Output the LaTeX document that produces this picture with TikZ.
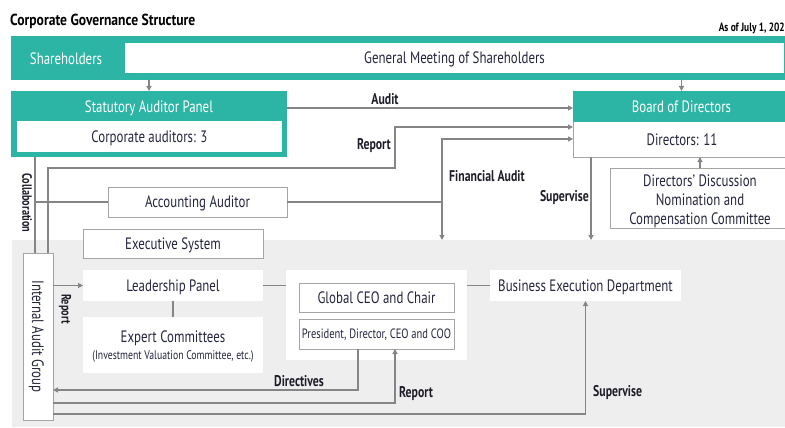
\documentclass[tikz,border=0pt]{standalone}
\usepackage{fontspec}
\setmainfont{PT Sans}[FakeStretch=0.78]
\newfontfamily\lblfont{PT Sans}[FakeStretch=0.76]
\newfontfamily\titlefont{PT Sans}[FakeStretch=0.85]
\usetikzlibrary{arrows.meta,calc}
\definecolor{tealc}{HTML}{2CB4A4}
\definecolor{bgarea}{HTML}{EEEEEE}
\definecolor{linec}{HTML}{858585}
\definecolor{bordc}{HTML}{A5A5A5}
\definecolor{txtc}{HTML}{25253F}
\definecolor{lblc}{HTML}{1E1E2A}
\begin{document}
\begin{tikzpicture}[x=1pt,y=-1pt,
  wh/.style 2 args={minimum width=#1pt,minimum height=#2pt},
  base/.style={inner sep=0pt,outer sep=0pt,text=txtc,text depth=0pt,font=\fontsize{16.5}{18.5}\selectfont},
  box/.style={base,draw=bordc,line width=0.9pt,fill=white},
  wbox/.style={base,fill=white},
  tealbox/.style={base,fill=tealc,text=white},
  lbl/.style={inner sep=0pt,text=lblc,font=\lblfont\bfseries\fontsize{15.5}{17}\selectfont},
  rlbl/.style={lbl,rotate=-90,font=\lblfont\bfseries\fontsize{13.5}{15}\selectfont},
  ln/.style={draw=linec,line width=1.1pt},
  conn/.style={ln,-{Triangle[length=5pt,width=5pt]}}
]
\useasboundingbox (0,0) rectangle (785,428);
% title
\node[anchor=west,inner sep=0pt,text=black,font=\titlefont\bfseries\fontsize{16}{18}\selectfont] (title) at (10,21) {Corporate Governance Structure};
\node[anchor=east,inner sep=0pt,text=black,font=\bfseries\fontsize{12}{14}\selectfont] (date) at (785,28) {As of July 1, 202};
% executive background area
\node[base,fill=bgarea,wh={778}{187}] (area) at (401,333.5) {};
% shareholders band
\node[tealbox,wh={779}{44}] (band) at (400.5,58) {};
\node[base,text=white] (shl) at (66,59) {Shareholders};
\node[wbox,wh={659}{30}] (gm) at (454.5,58) {General Meeting of Shareholders};
% statutory auditor panel
\node[tealbox,wh={276}{66}] (sap) at (149,124) {};
\node[base,text=white] (saptitle) at (149,107) {Statutory Auditor Panel};
\node[wbox,wh={265}{31}] (ca) at (149.5,136.5) {Corporate auditors: 3};
% board of directors
\node[box,wh={217}{66}] (board) at (681.5,124) {};
\node[tealbox,wh={217}{31}] (boardh) at (681.5,106.5) {Board of Directors};
\node[base] (dirs) at (682,140) {Directors: 11};
% directors' discussion
\node[box,wh={180}{60},align=center] (ddc) at (700,198) {\raisebox{-3pt}{\shortstack{Directors' Discussion\\[4pt]Nomination and\\[4pt]Compensation Committee}}};
% accounting auditor
\node[box,wh={179}{30}] (acc) at (197.5,202) {Accounting Auditor};
% executive system
\node[box,wh={180}{29}] (es) at (173,243.5) {Executive System};
% internal audit group
\node[box,wh={30}{167}] (iag) at (38,336.5) {};
\node[base,rotate=-90] (iagt) at (38,336.5) {Internal Audit Group};
% leadership, experts
\node[wbox,wh={180}{31}] (lp) at (173,285.5) {Leadership Panel};
\node[wbox,wh={180}{56},align=center] (ec) at (173,345) {Expert Committees\\[-2pt]{\fontsize{12.5}{14}\selectfont (Investment Valuation Committee, etc.)}};
% CEO area
\node[wbox,wh={181}{90}] (ceo) at (376.5,315) {};
\node[box,wh={155}{29}] (gceo) at (376.5,297.5) {Global CEO and Chair};
\node[box,wh={155}{30},font=\fontsize{13.5}{15}\selectfont] (pres) at (376.5,334) {President, Director, CEO and COO};
% business execution
\node[wbox,wh={191}{31}] (bed) at (585.5,285.5) {Business Execution Department};

% connectors
\draw[conn] (sap.north |- band.south) -- (sap.north);
\draw[conn] (boardh.north |- band.south) -- (boardh.north);
\draw[conn] ([yshift=16pt]sap.east) -- ([yshift=16pt]sap.east -| board.west);
\node[lbl] (laudit) at (385,99) {Audit};
\coordinate (repA) at (395,168);
\coordinate (repB) at (395,127);
\draw[conn] ([xshift=10pt]iag.north) |- (repA) -- (repB) -- (repB -| board.west);
\node[lbl,anchor=east] (lrep1) at (391,146) {Report};
\draw[ln] ([xshift=-3pt]iag.north) -- ([xshift=-3pt]iag.north |- sap.south);
\draw[ln] (acc.west) -- ([xshift=-3pt]iag.north |- acc.west);
\node[rlbl] (lcollab) at (27,203) {Collaboration};
\coordinate (fa) at (442,202);
\draw[ln] (acc.east) -- (fa);
\draw[conn] (fa) |- ([yshift=-15pt]board.west);
\draw[conn] (fa) -- (fa |- area.north);
\node[lbl,anchor=west] (lfa) at (449,176) {Financial Audit};
\draw[conn] ([xshift=18pt]board.south west) -- ([xshift=18pt]board.south west |- area.north);
\node[lbl,anchor=east] (lsup1) at (589,198) {Supervise};
\draw[conn] (ddc.north) -- (ddc.north |- board.south);
\draw[conn] (iag.east |- lp.west) -- (lp.west);
\node[rlbl] (lrep2) at (65,309) {Report};
\draw[ln] (lp.east) -- (lp.east -| ceo.west);
\draw[ln] (bed.west) -- (bed.west -| ceo.east);
\draw[ln] (lp.south) -- (ec.north);
\draw[conn] ([xshift=-18.5pt]pres.south) |- ([yshift=-53.5pt]iag.east);
\node[lbl] (ldir) at (299,381) {Directives};
\draw[conn] ([yshift=-66.5pt]iag.east) -| ([xshift=18.5pt]pres.south);
\node[lbl,anchor=west] (lrep3) at (399,394) {Report};
\draw[conn] ([yshift=-77.5pt]iag.east) -| (bed.south);
\node[lbl,anchor=west] (lsup2) at (593,393) {Supervise};
\end{tikzpicture}
\end{document}
